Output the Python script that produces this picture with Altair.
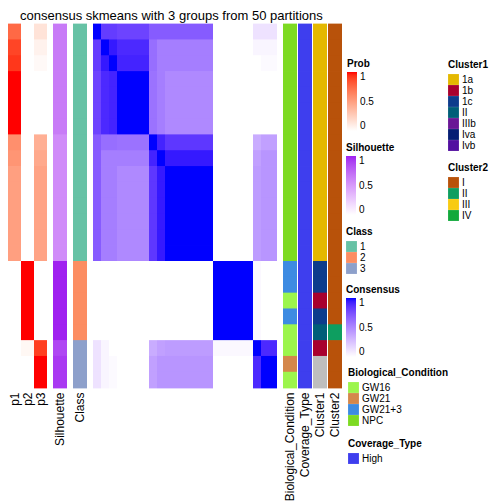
import altair as alt
import pandas as pd

FONT = "Liberation Sans"
TITLE = "consensus skmeans with 3 groups from 50 partitions"

rows = list(range(23))

p1 = [0.75, 0.88, 0.92, 1, 1, 1, 1, 0.58, 0.55, 0.5, 0.5, 0.5, 0.5, 0.5, 0.5,
      0, 0, 0, 0, 0, 0, 0, 0]
p2 = [0] * 15 + [1, 1, 1, 1, 1] + [0.04, 0, 0]
p3 = [0.15, 0.07, 0.03, 0, 0, 0, 0, 0.42, 0.45, 0.48, 0.48, 0.48, 0.48, 0.48, 0.48,
      0, 0, 0, 0, 0, 0.9, 1, 1]
silhouette = [0.65] * 7 + [0.57] * 8 + [1] * 5 + [0.88, 0.93, 0.93]
classes = ["1"] * 15 + ["2"] * 5 + ["3"] * 3
bio = ["NPC"] * 15 + ["GW21+3", "GW21+3", "GW16", "GW21+3", "GW16", "GW16", "GW21", "GW16"]
coverage = ["High"] * 23
cluster1 = ["1a"] * 15 + ["1c", "1c", "1b", "1c", "II", "1b", "NA", "NA"]
cluster2 = ["I"] * 19 + ["II"] + ["I"] * 3

consensus = [
    [1, .83, .83, .8, .8, .8, .8, .7, .7, .7, .7, .7, .7, .7, .7, 0, 0, 0, 0, 0, .12, .12, .12],
    [.83, 1, .95, .9, .9, .9, .9, .62, .55, .55, .55, .55, .55, .55, .55, 0, 0, 0, 0, 0, .04, .04, .04],
    [.83, .95, 1, .92, .92, .92, .92, .62, .55, .55, .55, .55, .55, .55, .55, 0, 0, 0, 0, 0, 0, .02, .02],
    [.8, .9, .92, 1, 1, 1, 1, .6, .55, .5, .5, .5, .5, .5, .5, 0, 0, 0, 0, 0, 0, 0, 0],
    [.8, .9, .92, 1, 1, 1, 1, .6, .55, .5, .5, .5, .5, .5, .5, 0, 0, 0, 0, 0, 0, 0, 0],
    [.8, .9, .92, 1, 1, 1, 1, .6, .55, .5, .5, .5, .5, .5, .5, 0, 0, 0, 0, 0, 0, 0, 0],
    [.8, .9, .92, 1, 1, 1, 1, .6, .55, .5, .5, .5, .5, .5, .5, 0, 0, 0, 0, 0, 0, 0, 0],
    [.7, .62, .62, .6, .6, .6, .6, 1, .92, .85, .85, .85, .85, .85, .85, 0, 0, 0, 0, 0, .35, .4, .4],
    [.7, .55, .55, .55, .55, .55, .55, .92, 1, .95, .95, .95, .95, .95, .95, 0, 0, 0, 0, 0, .4, .45, .45],
    [.7, .55, .55, .5, .5, .5, .5, .85, .95, 1, 1, 1, 1, 1, 1, 0, 0, 0, 0, 0, .42, .45, .45],
    [.7, .55, .55, .5, .5, .5, .5, .85, .95, 1, 1, 1, 1, 1, 1, 0, 0, 0, 0, 0, .42, .45, .45],
    [.7, .55, .55, .5, .5, .5, .5, .85, .95, 1, 1, 1, 1, 1, 1, 0, 0, 0, 0, 0, .42, .45, .45],
    [.7, .55, .55, .5, .5, .5, .5, .85, .95, 1, 1, 1, 1, 1, 1, 0, 0, 0, 0, 0, .42, .45, .45],
    [.7, .55, .55, .5, .5, .5, .5, .85, .95, 1, 1, 1, 1, 1, 1, 0, 0, 0, 0, 0, .42, .45, .45],
    [.7, .55, .55, .5, .5, .5, .5, .85, .95, 1, 1, 1, 1, 1, 1, 0, 0, 0, 0, 0, .42, .45, .45],
    [0, 0, 0, 0, 0, 0, 0, 0, 0, 0, 0, 0, 0, 0, 0, 1, 1, 1, 1, 1, .03, 0, 0],
    [0, 0, 0, 0, 0, 0, 0, 0, 0, 0, 0, 0, 0, 0, 0, 1, 1, 1, 1, 1, .03, 0, 0],
    [0, 0, 0, 0, 0, 0, 0, 0, 0, 0, 0, 0, 0, 0, 0, 1, 1, 1, 1, 1, .03, 0, 0],
    [0, 0, 0, 0, 0, 0, 0, 0, 0, 0, 0, 0, 0, 0, 0, 1, 1, 1, 1, 1, .03, 0, 0],
    [0, 0, 0, 0, 0, 0, 0, 0, 0, 0, 0, 0, 0, 0, 0, 1, 1, 1, 1, 1, .03, 0, 0],
    [.12, .04, 0, 0, 0, 0, 0, .35, .4, .42, .42, .42, .42, .42, .42, .03, .03, .03, .03, .03, 1, .9, .9],
    [.12, .04, .02, 0, 0, 0, 0, .4, .45, .45, .45, .45, .45, .45, .45, 0, 0, 0, 0, 0, .9, 1, 1],
    [.12, .04, .02, 0, 0, 0, 0, .4, .45, .45, .45, .45, .45, .45, .45, 0, 0, 0, 0, 0, .9, 1, 1],
]

class_names = ["1", "2", "3"]
class_colors = ["#66C2A5", "#FC8D62", "#8DA0CB"]
bio_names = ["GW16", "GW21", "GW21+3", "NPC"]
bio_colors = ["#9CF54C", "#D4874B", "#3D8BE2", "#7DDA22"]
cov_names = ["High"]
cov_colors = ["#3E3EEE"]
c1_names = ["1a", "1b", "1c", "II", "IIIb", "Iva", "Ivb"]
c1_colors = ["#E4B800", "#A8002E", "#0D3C8C", "#005E78", "#6A1796", "#061E74", "#520FA0"]
c2_names = ["I", "II", "III", "IV"]
c2_colors = ["#B8520A", "#0E9E60", "#F8CB12", "#12A93C"]
ann_names = ["Biological_Condition", "Coverage_Type", "Cluster1", "Cluster2"]

axis_kw = dict(labelAngle=-90, domain=False, ticks=False, tickSize=0, labelPadding=4,
               labelFontSize=12, labelFont=FONT, labelColor="black", title=None,
               orient="bottom", labelLimit=300)

y_enc = alt.Y("row:O", axis=None, scale=alt.Scale(paddingInner=0, paddingOuter=0))

OVER = {"band": 1.05}


def grad_legend(title, lx, ly):
    return alt.Legend(title=title, orient="none", legendX=lx, legendY=ly, direction="vertical",
                      values=[0, 0.5, 1], format="~g", gradientLength=59, gradientThickness=10,
                      gradientStrokeWidth=0, labelFontSize=10, labelFont=FONT, labelOffset=3,
                      titleFontSize=10, titleFont=FONT, titleFontWeight="bold", titlePadding=3,
                      labelColor="black", titleColor="black")


def sym_legend(title, lx, ly, values):
    return alt.Legend(title=title, orient="none", legendX=lx, legendY=ly, direction="vertical",
                      values=values, symbolType="square", symbolSize=118, symbolStrokeWidth=0,
                      symbolOpacity=1, labelFontSize=10, labelFont=FONT, labelOffset=3,
                      titleFontSize=10, titleFont=FONT, titleFontWeight="bold", titlePadding=4,
                      rowPadding=0, labelColor="black", titleColor="black")


def qscale(top):
    return alt.Scale(domain=[0, 1], range=["#FFFFFF", top], interpolate="lab")


# probability panel
pdf = pd.DataFrame({"row": rows * 3,
                    "var": ["p1"] * 23 + ["p2"] * 23 + ["p3"] * 23,
                    "value": p1 + p2 + p3})
p_chart = alt.Chart(pdf).mark_rect(height=OVER).encode(
    x=alt.X("var:N", sort=["p1", "p2", "p3"], scale=alt.Scale(paddingInner=0, paddingOuter=0),
            axis=alt.Axis(**axis_kw)),
    y=y_enc,
    color=alt.Color("value:Q", scale=qscale("#FF0000"), legend=grad_legend("Prob", 339, 35)),
).properties(width=39, height=364)

sdf = pd.DataFrame({"row": rows, "var": ["Silhouette"] * 23, "value": silhouette})
s_chart = alt.Chart(sdf).mark_rect(height=OVER).encode(
    x=alt.X("var:N", scale=alt.Scale(paddingInner=0, paddingOuter=0), axis=alt.Axis(**axis_kw)),
    y=y_enc,
    color=alt.Color("value:Q", scale=qscale("#A020F0"), legend=grad_legend("Silhouette", 293, 119)),
).properties(width=14, height=364)

cdf = pd.DataFrame({"row": rows, "var": ["Class"] * 23, "value": classes})
c_chart = alt.Chart(cdf).mark_rect(height=OVER).encode(
    x=alt.X("var:N", scale=alt.Scale(paddingInner=0, paddingOuter=0), axis=alt.Axis(**axis_kw)),
    y=y_enc,
    color=alt.Color("value:N", scale=alt.Scale(domain=class_names, range=class_colors),
                    legend=sym_legend("Class", 273, 203, class_names)),
).properties(width=14, height=364)

mdf = pd.DataFrame([{"row": i, "col": j, "value": consensus[i][j]} for i in rows for j in rows])
m_chart = alt.Chart(mdf).mark_rect(height=OVER).encode(
    x=alt.X("col:O", axis=None, scale=alt.Scale(paddingInner=0, paddingOuter=0)),
    y=y_enc,
    color=alt.Color("value:Q", scale=qscale("#0000FF"), legend=grad_legend("Consensus", 253, 261)),
).properties(width=184, height=364)


def ann_layer(name, values, names, colors, legend):
    df = pd.DataFrame({"row": rows, "ann": [name] * 23, "val": values})
    dom = list(names)
    rng = list(colors)
    if "NA" in values:
        dom.append("NA")
        rng.append("#BEBEBE")
    return alt.Chart(df).mark_rect(height=OVER).encode(
        x=alt.X("ann:N", sort=ann_names,
                scale=alt.Scale(domain=ann_names, paddingInner=1 / 15, paddingOuter=0),
                axis=alt.Axis(**axis_kw)),
        y=y_enc,
        color=alt.Color("val:N", scale=alt.Scale(domain=dom, range=rng), legend=legend),
    )


r_chart = alt.layer(
    ann_layer("Biological_Condition", bio, bio_names, bio_colors,
              sym_legend("Biological_Condition", 65, 344, bio_names)),
    ann_layer("Coverage_Type", coverage, cov_names, cov_colors,
              sym_legend("Coverage_Type", 65, 415, cov_names)),
    ann_layer("Cluster1", cluster1, c1_names, c1_colors,
              sym_legend("Cluster1", 165, 36, c1_names)),
    ann_layer("Cluster2", cluster2, c2_names, c2_colors,
              sym_legend("Cluster2", 165, 139, c2_names)),
).resolve_scale(color="independent").properties(width=59, height=364)

chart = alt.hconcat(p_chart, s_chart, c_chart, m_chart, r_chart, spacing=6, bounds="flush").resolve_scale(
    color="independent"
).properties(
    title=alt.TitleParams(TITLE, anchor="start", dx=12, fontSize=13, font=FONT,
                          fontWeight="normal", color="black", offset=1),
    padding={"top": 1, "left": 0, "right": 0, "bottom": 0},
).configure_view(stroke=None)

chart.save("out.html", embed_options={"renderer": "svg", "actions": False})
